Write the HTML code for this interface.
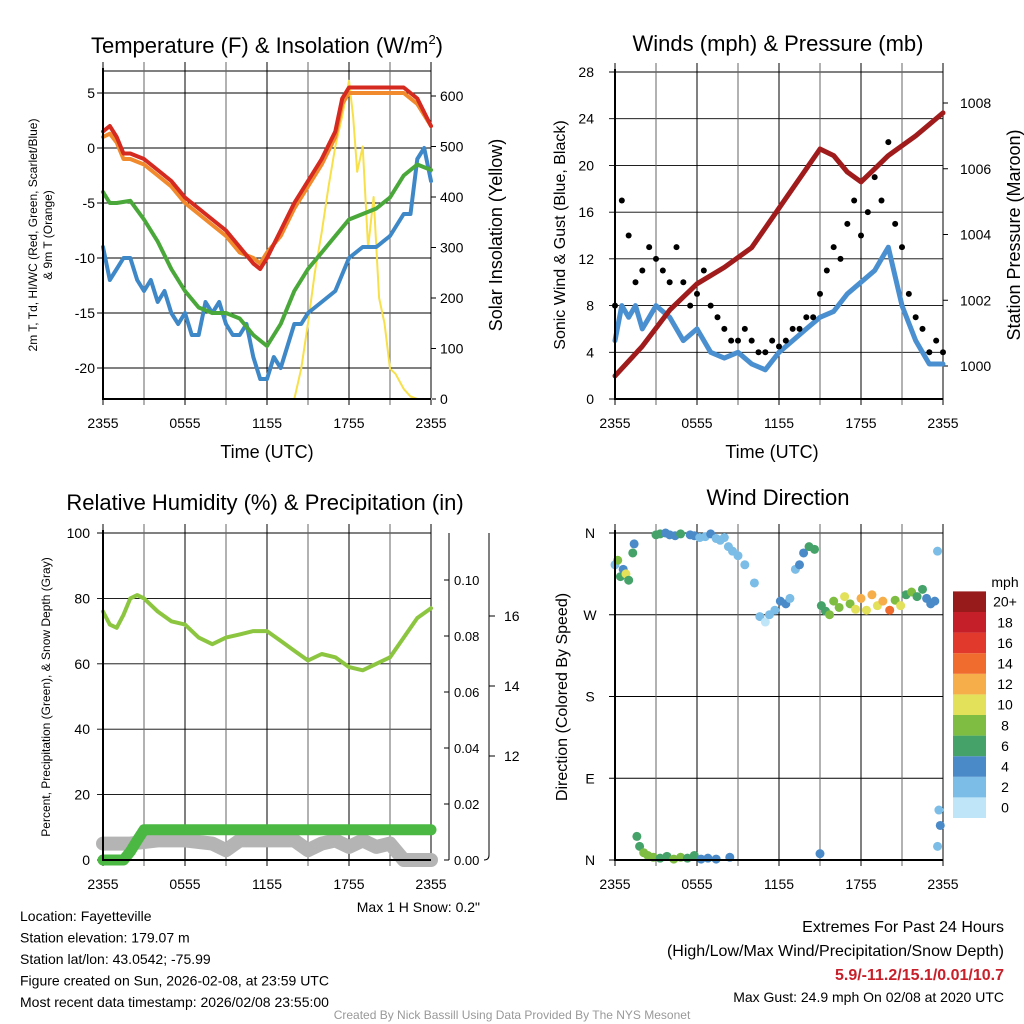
<!DOCTYPE html>
<html><head><meta charset="utf-8"><style>
body{margin:0;background:#fff}
svg{display:block;font-family:"Liberation Sans",sans-serif}
</style></head><body>
<svg id="s" width="1024" height="1024" viewBox="0 0 1024 1024">
<g id="g"></g>
</svg>
<script>
// ---------- data ----------
const tempHours=[0,0.5,1,1.5,2,3,4,5,6,7,8,9,10,11,11.5,12,13,14,15,16,17,17.5,18,19,20,21,22,23,24];
const tempRed=[1.5,2,1,-0.5,-0.5,-1,-2,-3,-4.5,-5.5,-6.5,-7.5,-9,-10.5,-11,-10,-7.5,-5,-3,-1,1.5,4.5,5.5,5.5,5.5,5.5,5.5,4.5,2];
const tempOrange=[1,1.3,0.5,-1,-1,-1.5,-2.5,-3.5,-5,-6,-7,-8,-9.5,-10,-10.5,-9.5,-8,-5.5,-3.5,-1.5,1,4,5,5,5,5,5,4,2];
const dewHours=[0,0.5,1,2,3,4,5,6,7,8,9,10,11,12,13,14,15,16,17,18,19,20,21,22,23,24];
const dewGreen=[-4,-5,-5,-4.8,-6.5,-8.5,-11,-13,-14.5,-15,-15,-15.5,-17,-18,-16,-13,-11,-9.5,-8,-6.5,-6,-5.5,-4.5,-2.5,-1.5,-2];
const wcHours=[0,0.5,1,1.5,2,2.5,3,3.5,4,4.5,5,5.5,6,6.5,7,7.5,8,8.5,9,9.5,10,10.5,11,11.5,12,12.5,13,13.5,14,14.5,15,16,17,18,19,20,21,22,22.5,23,23.5,24];
const wcBlue=[-9,-12,-11,-10,-10,-12,-13,-12,-14,-13,-15,-16,-15,-17,-17,-14,-15,-14,-16,-17,-17,-16,-19,-21,-21,-19,-20,-18,-16,-16,-15,-14,-13,-10,-9,-9,-8,-6,-6,-1,0,-3];
const solarHours=[0,12,14,14.5,15,15.5,16,16.5,17,17.5,18,18.3,18.6,19,19.4,19.8,20.2,20.6,21,21.4,22,22.5,23,24];
const solarVals=[0,0,0,60,150,250,330,420,500,560,630,560,450,500,300,400,200,150,60,50,20,5,0,0];

const presHours=[0,2,4,6,8,10,12,14,15,16,17,18,19,20,22,24];
const presVals=[999.7,1000.6,1001.7,1002.5,1003,1003.6,1004.8,1006,1006.6,1006.4,1005.9,1005.6,1006,1006.4,1007,1007.7];
const windHours=[0,0.5,1,1.5,2,2.5,3,4,5,6,7,8,9,10,11,12,13,14,15,16,17,18,19,20,21,22,23,24];
const windVals=[5,8,7,8,6,7,8,7,5,6,4,3.5,4,3,2.5,4,5,6,7,7.5,9,10,11,13,8,5,3,3];
const gustHours=[0,0.5,1,1.5,2,2.5,3,3.5,4,4.5,5,5.5,6,6.5,7,7.5,8,8.5,9,9.5,10,10.5,11,11.5,12,12.5,13,13.5,14,14.5,15,15.5,16,16.5,17,17.5,18,18.5,19,19.5,20,20.5,21,21.5,22,22.5,23,23.5,24];
const gustVals=[8,17,14,10,11,13,12,11,10,13,10,8,9,11,8,7,6,5,5,6,5,4,4,5,4.5,5,6,6,7,7,9,11,13,12,15,17,14,16,19,17,22,15,13,9,7,6,4,5,4];

const rhHours=[0,0.5,1,1.5,2,2.5,3,4,5,6,7,8,9,10,11,12,13,14,15,16,17,18,19,20,21,22,23,24];
const rhVals=[76,72,71,75,80,81,80,76,73,72,68,66,68,69,70,70,67,64,61,63,62,59,58,60,62,68,74,77];
const precipHours=[0,1.5,2,2.5,3,24];
const precipVals=[0,0,0.003,0.007,0.0108,0.0108];
const snowHours=[0,2,4,6,8,9,10,12,14,15,16,17,18,19,20,21,22,24];
const snowVals=[5,5,6,6,5,3,6,6,6,3,5,6,4,6,4,5,0,0];

const dirHours=[0,0.2,0.4,0.6,0.8,1.0,1.4,1.3,3,3.3,3.7,4,4.4,4.8,5.5,5.8,6.2,6.6,7,7.4,7.7,8,8.3,8.6,9,9.5,10.2,10.6,11,11.3,11.7,12.1,12.5,12.8,13.2,13.5,13.8,14.2,14.6,15.1,15.4,15.7,16,16.4,16.8,17.2,17.6,18,18.4,18.8,19.2,19.6,20.1,20.5,20.9,21.3,21.7,22.1,22.5,22.8,23.1,23.4,23.6,1.6,1.8,2.1,2.4,2.8,3.3,3.8,4.3,4.8,5.3,5.8,6.3,6.8,7.4,8.4,15,23.6,23.8,23.7];
const dirVals=[325,330,312,320,315,308,348,338,358,359,360,358,357,359,358,357,355,356,359,354,352,355,345,340,335,325,305,268,262,270,275,285,282,288,320,325,338,345,342,280,274,270,285,278,290,282,276,288,275,292,280,285,275,286,280,292,295,290,298,288,282,285,340,26,15,8,5,3,2,4,1,3,2,5,1,2,1,3,7,15,38,55];
const dirSpeed=[3,9,7,5,11,7,5,7,7,7,5,5,5,7,5,5,3,3,5,3,3,3,3,3,3,3,3,3,1,3,3,5,5,3,3,5,5,7,7,7,7,9,9,9,11,9,11,13,11,13,11,13,15,9,11,7,9,7,7,5,5,5,3,7,7,9,9,9,7,7,9,9,7,7,5,5,5,5,5,3,5,3];
const speedBins=["0","2","4","6","8","10","12","14","16","18","20+"];
const speedColors=["#bfe6f8","#7bbde6","#4a8ac8","#45a36a","#7fbd42","#e3e05a","#f6ae4a","#ef6b2e","#e1392b","#c51f29","#981b1c"];

// ---------- helpers ----------
const G=document.getElementById('g');
const NS='http://www.w3.org/2000/svg';
function el(tag,attrs,parent){const e=document.createElementNS(NS,tag);for(const k in attrs)e.setAttribute(k,attrs[k]);(parent||G).appendChild(e);return e;}
function txt(x,y,s,size,anchor,extra){const t=el('text',Object.assign({x:x,y:y,'font-size':size,'text-anchor':anchor||'middle',fill:'#000'},extra||{}));t.textContent=s;return t;}
function lin(d0,d1,r0,r1){return v=>r0+(v-d0)/(d1-d0)*(r1-r0);}
function path(xs,ys,fx,fy,stroke,w,name){let d='';for(let i=0;i<xs.length;i++)d+=(i?'L':'M')+fx(xs[i]).toFixed(1)+','+fy(ys[i]).toFixed(1);const p=el('path',{d:d,fill:'none',stroke:stroke,'stroke-width':w,'stroke-linejoin':'round','stroke-linecap':'round'});

return p;}
function hgrid(x0,x1,y){el('line',{x1:x0-6,x2:x1,y1:y,y2:y,stroke:'#000','stroke-width':0.9});}
function vgrid(x,y0,y1,c){el('line',{x1:x,x2:x,y1:y0-9,y2:y1+6,stroke:c||'#555','stroke-width':1});}
function xgrid(fx,y0,y1){for(let h=0;h<=24;h+=3){vgrid(fx(h),y0,y1,(h%6==0)?'#000':'#666');}}
function axes(x0,x1,y0,y1,name){const p=el('path',{d:`M${x0},${y0} L${x0},${y1} L${x1},${y1}`,fill:'none',stroke:'#000','stroke-width':2});

}
const xLabels=["2355","0555","1155","1755","2355"];

// ---------- Panel 1 ----------
(function(){
 const x0=103,x1=431,y0=71,y1=399;
 const fx=lin(0,24,x0,x1), fy=lin(0,5,148,93), fs=lin(0,600,399,96);
 el('line',{x1:x0,x2:x1,y1:y0,y2:y0,stroke:'#000'});
 [5,0,-5,-10,-15,-20].forEach(v=>{hgrid(x0,x1,fy(v));txt(95,fy(v)+5,String(v),14,'end');});
 el('line',{x1:x1,x2:x1,y1:y0,y2:y1,stroke:'#000'});
 [0,100,200,300,400,500,600].forEach(v=>{el('line',{x1:x1,x2:x1+5,y1:fs(v),y2:fs(v),stroke:'#000'});txt(440,fs(v)+5,String(v),14,'start');});
 xgrid(fx,y0,y1);
 [0,6,12,18,24].forEach((h,i)=>txt(fx(h),428,xLabels[i],14));
 path(solarHours,solarVals,fx,fs,'#f7e04a',2,'solar-line');
 path(wcHours,wcBlue,fx,fy,'#3f88c8',4,'windchill-line');
 path(dewHours,dewGreen,fx,fy,'#4aa83a',4,'dewpoint-line');
 path(tempHours,tempOrange,fx,fy,'#f08a2c',4,'temp-9m-line');
 path(tempHours,tempRed,fx,fy,'#d42a20',4,'temp-2m-line');
 axes(x0,x1,y0-3,y1,'temperature-axes');
 const t=txt(267,53,'Temperature (F) & Insolation (W/m',22,'middle',{});
 const sp=el('tspan',{'font-size':13,dy:-9},t);sp.textContent='2';const sp2=el('tspan',{dy:9},t);sp2.textContent=')';
 txt(267,458,'Time (UTC)',18,'middle',{});
 txt(37,235,'2m T, Td, HI/WC (Red, Green, Scarlet/Blue)',12,'middle',{transform:'rotate(-90 37 235)',});
 txt(52,235,'& 9m T (Orange)',12,'middle',{transform:'rotate(-90 52 235)',});
 txt(502,235,'Solar Insolation (Yellow)',18,'middle',{transform:'rotate(-90 502 235)',});
})();

// ---------- Panel 2 ----------
(function(){
 const x0=615,x1=943,y0=72,y1=399;
 const fx=lin(0,24,x0,x1), fy=lin(0,28,399,72), fp=lin(1000,1008,366,103);
 [0,4,8,12,16,20,24,28].forEach(v=>{hgrid(x0,x1,fy(v));txt(594,fy(v)+5,String(v),14,'end');});
 el('line',{x1:x1,x2:x1,y1:y0,y2:y1,stroke:'#000'});
 [1000,1002,1004,1006,1008].forEach(v=>{el('line',{x1:x1,x2:x1+5,y1:fp(v),y2:fp(v),stroke:'#000'});txt(960,fp(v)+5,String(v),14,'start');});
 xgrid(fx,y0,y1);
 [0,6,12,18,24].forEach((h,i)=>txt(fx(h),428,xLabels[i],14));
 path(windHours,windVals,fx,fy,'#4a90d0',5,'sonic-wind-line');
 gustHours.forEach((h,i)=>{const c=el('circle',{cx:fx(h),cy:fy(gustVals[i]),r:3,fill:'#000'});
  
  });
 path(presHours,presVals,fx,fp,'#a01c1c',5,'pressure-line');
 axes(x0,x1,y0-3,y1,'winds-axes');
 txt(778,51,'Winds (mph) & Pressure (mb)',22,'middle',{});
 txt(772,458,'Time (UTC)',18,'middle',{});
 txt(565,235,'Sonic Wind & Gust (Blue, Black)',16,'middle',{transform:'rotate(-90 565 235)',});
 txt(1020,235,'Station Pressure (Maroon)',18,'middle',{transform:'rotate(-90 1020 235)',});
})();

// ---------- Panel 3 ----------
(function(){
 const x0=103,x1=431,y0=533,y1=860;
 const fx=lin(0,24,x0,x1), fy=lin(0,100,860,533), fpr=lin(0,0.1,860,580);
 [0,20,40,60,80,100].forEach(v=>{hgrid(x0,x1,fy(v));txt(90,fy(v)+5,String(v),14,'end');});
 el('line',{x1:x1,x2:x1,y1:y0,y2:y1,stroke:'#000'});
 xgrid(fx,y0,y1);
 [0,6,12,18,24].forEach((h,i)=>txt(fx(h),889,xLabels[i],14));
 el('line',{x1:449,x2:449,y1:533,y2:860,stroke:'#000'});
 [0,0.02,0.04,0.06,0.08,0.1].forEach(v=>{el('line',{x1:449,x2:444,y1:fpr(v),y2:fpr(v),stroke:'#000'});txt(454,fpr(v)+5,v.toFixed(2),13,'start');});
 el('path',{d:'M489,533 L489,855 Q489,860 484,860',fill:'none',stroke:'#000'});
 [[12,756],[14,686],[16,616]].forEach(a=>{el('line',{x1:489,x2:495,y1:a[1],y2:a[1],stroke:'#000'});txt(504,a[1]+5,String(a[0]),14,'start');});
 path(snowHours,snowVals,fx,fy,'#b4b4b4',14,'snow-depth-line');
 path(precipHours,precipVals,fx,fpr,'#4cb844',11,'precip-line');
 path(rhHours,rhVals,fx,fy,'#8cc640',4,'rh-line');
 axes(x0,x1,y0-3,y1,'rh-axes');
 txt(265,510,'Relative Humidity (%) & Precipitation (in)',22,'middle',{});
 txt(50,697,'Percent, Precipitation (Green), & Snow Depth (Gray)',12,'middle',{transform:'rotate(-90 50 697)',});
 txt(480,912,'Max 1 H Snow: 0.2"',14,'end',{});
})();

// ---------- Panel 4 ----------
(function(){
 const x0=615,x1=943,y0=533,y1=860;
 const fx=lin(0,24,x0,x1), fy=lin(0,360,860,533);
 const dl=['N','E','S','W','N'];
 [0,90,180,270,360].forEach((v,i)=>{hgrid(x0,x1,fy(v));txt(590,fy(v)+5,dl[i],14,'middle');});
 el('line',{x1:x1,x2:x1,y1:y0,y2:y1,stroke:'#000'});
 xgrid(fx,y0,y1);
 [0,6,12,18,24].forEach((h,i)=>txt(fx(h),889,xLabels[i],14));
 dirHours.forEach((h,i)=>{const b=Math.min(10,Math.floor(dirSpeed[i]/2));const c=el('circle',{cx:fx(h),cy:fy(dirVals[i]),r:4.5,fill:speedColors[b]});
  
  });
 axes(x0,x1,y0-3,y1,'direction-axes');
 txt(778,505,'Wind Direction',22,'middle',{});
 txt(567,697,'Direction (Colored By Speed)',16,'middle',{transform:'rotate(-90 567 697)',});
 txt(1005,587,'mph',14,'middle');
 const bh=20.6;
 speedBins.forEach((s,i)=>{const yy=818-i*bh;
  const r=el('rect',{x:953,y:yy-bh,width:33,height:bh,fill:speedColors[i]});
  
  
  txt(1005,yy-bh/2+5,s,14,'middle');});
})();

// ---------- footer ----------
const info=['Location: Fayetteville','Station elevation: 179.07 m','Station lat/lon: 43.0542; -75.99','Figure created on Sun, 2026-02-08, at 23:59 UTC','Most recent data timestamp: 2026/02/08 23:55:00'];
info.forEach((s,i)=>txt(20,921+i*21.5,s,14,'start',{}));
txt(1004,932,'Extremes For Past 24 Hours',16,'end',{});
txt(1004,956,'(High/Low/Max Wind/Precipitation/Snow Depth)',16,'end');
txt(1004,980,'5.9/-11.2/15.1/0.01/10.7',16,'end',{fill:'#c8202a','font-weight':'bold',});
txt(1004,1002,'Max Gust: 24.9 mph On 02/08 at 2020 UTC',14,'end',{});
txt(512,1019,'Created By Nick Bassill Using Data Provided By The NYS Mesonet',12,'middle',{fill:'#999',});
</script>
</body></html>
